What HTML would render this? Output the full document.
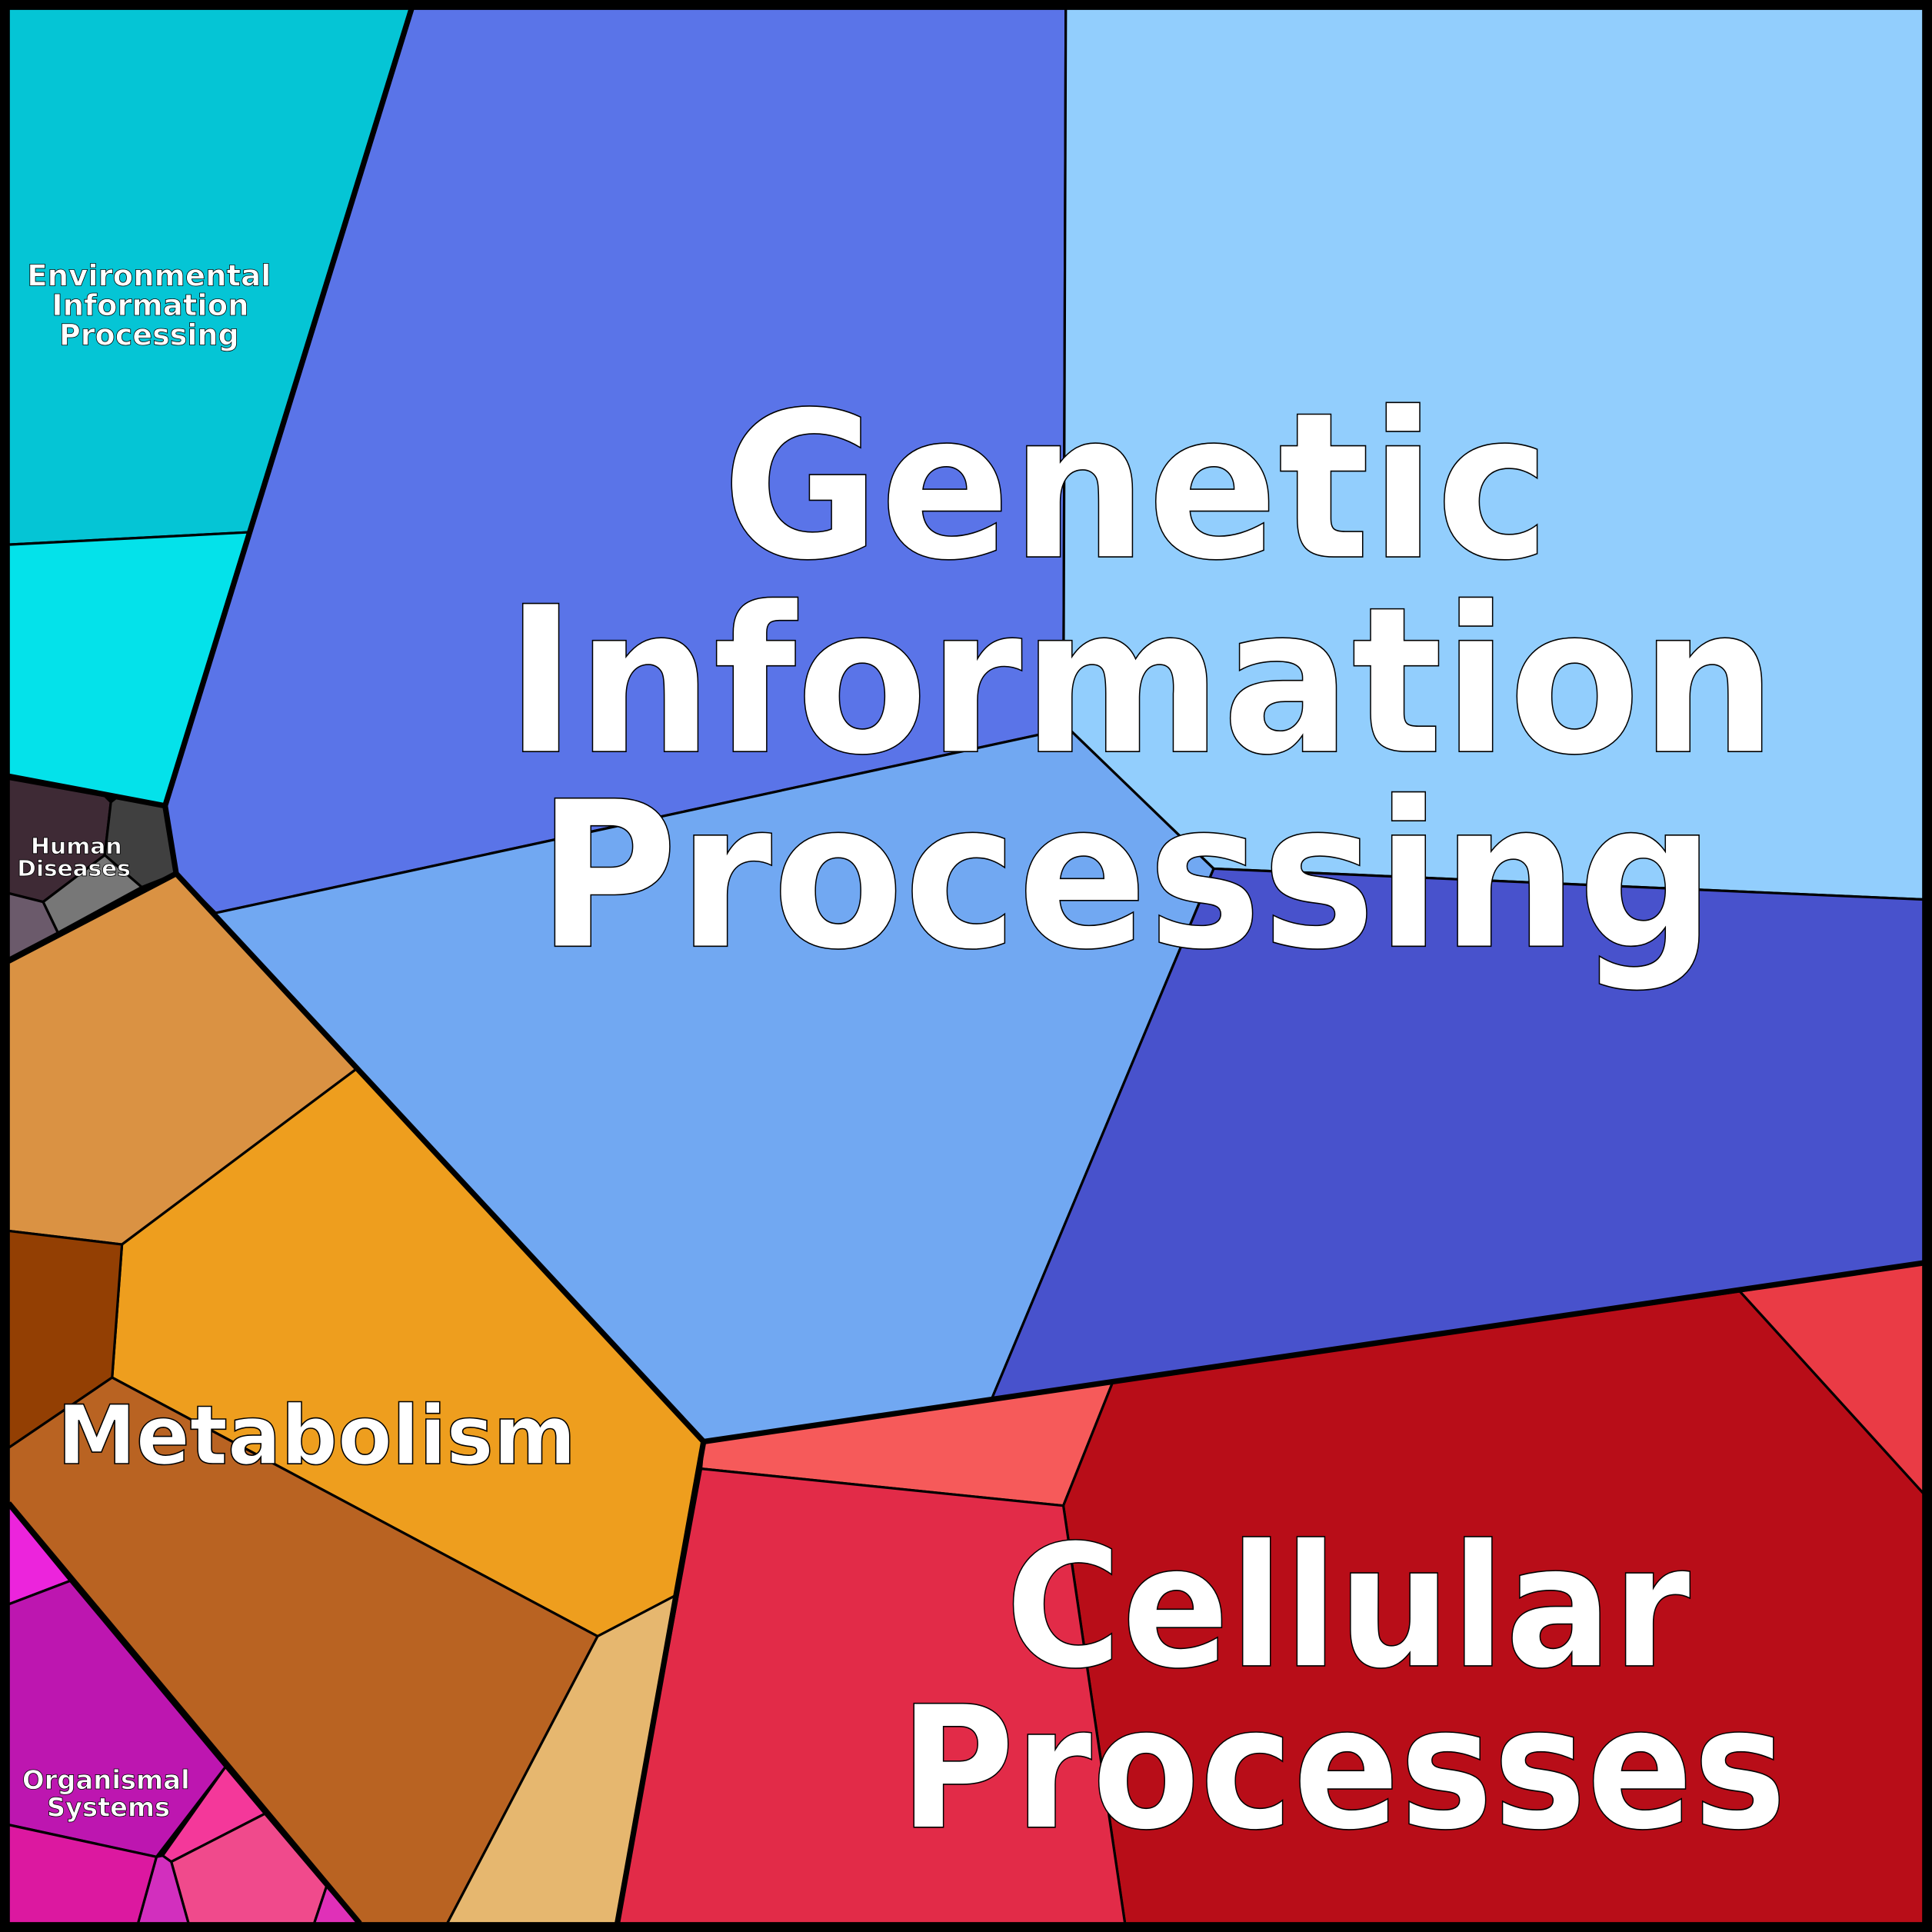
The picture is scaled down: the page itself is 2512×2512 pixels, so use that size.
<!DOCTYPE html>
<html><head><meta charset="utf-8"><style>html,body{margin:0;padding:0;background:#000}svg{display:block}</style></head>
<body>
<svg width="2512" height="2512" viewBox="0 0 1568 1568" xmlns="http://www.w3.org/2000/svg">
<rect x="0" y="0" width="1568" height="1568" fill="#000"/>
<g stroke="#000" stroke-width="2" stroke-linejoin="round">
<polygon fill="#05c5d5" points="7,7 334,7 202,432 7,442"/>
<polygon fill="#04e2ea" points="7,442 202,432 134,654 7,630"/>
<polygon fill="#5a74e8" points="334,7 865,7 863,592 175,741 143,709 134,654"/>
<polygon fill="#92cefd" points="865,7 1561,7 1561,730 985,705 868,592 863,592"/>
<polygon fill="#71a8f2" points="175,741 863,592 868,592 985,705 805,1135 571,1170 143,709"/>
<polygon fill="#4852cc" points="985,705 1561,730 1561,1025 805,1135"/>
<polygon fill="#f65a5a" points="571,1170 903,1122 863,1222 569,1192"/>
<polygon fill="#b80d18" points="903,1122 1412,1048 1561,1212 1561,1561 913,1561 863,1222"/>
<polygon fill="#ea3b45" points="1412,1048 1561,1025 1561,1212"/>
<polygon fill="#e22b48" points="569,1192 863,1222 913,1561 501,1561"/>
<polygon fill="#da9243" points="7,780 143,709 290,867 99,1010 7,999"/>
<polygon fill="#ee9e1e" points="290,867 571,1170 548,1295 485,1328 91,1118 99,1010"/>
<polygon fill="#933f03" points="7,999 99,1010 91,1118 7,1175"/>
<polygon fill="#b96322" points="7,1175 91,1118 485,1328 363,1561 292,1561 7,1220"/>
<polygon fill="#e6b76f" points="485,1328 548,1295 501,1561 363,1561"/>
<polygon fill="#3e2a35" points="7,632 85,646 90,651 85,694 35,732 7,725"/>
<polygon fill="#404040" points="90,651 95,647 134,654 143,709 115,720 85,694"/>
<polygon fill="#777777" points="85,694 115,720 47,757 35,732"/>
<polygon fill="#6b5a6b" points="7,725 35,732 47,757 7,778"/>
<polygon fill="#ec24dc" points="7,1222 57,1283 7,1302"/>
<polygon fill="#bd16b0" points="7,1302 57,1283 183,1434 127,1507 7,1481"/>
<polygon fill="#f4389a" points="183,1434 215,1472 139,1511 132,1506"/>
<polygon fill="#f04a8c" points="215,1472 265,1531 255,1561 153,1561 139,1511"/>
<polygon fill="#e030b8" points="265,1531 292,1561 255,1561"/>
<polygon fill="#d22fbe" points="127,1507 132,1506 139,1511 153,1561 112,1561"/>
<polygon fill="#dc18a0" points="7,1481 127,1507 112,1561 7,1561"/>
</g>
<g stroke="#000" stroke-width="4.5" fill="none" stroke-linejoin="round">
<polyline points="7,630 134,654 143,709 7,780"/>
<polyline points="334,7 134,654"/>
<polyline points="143,709 571,1170 1561,1025"/>
<polyline points="571,1170 501,1561"/>
<polyline points="7,1220 292,1561"/>
</g>
<rect x="3.5" y="3.5" width="1561" height="1561" fill="none" stroke="#000" stroke-width="7"/>
<g font-family="'DejaVu Sans','Liberation Sans',sans-serif" font-weight="bold" fill="#fff" stroke="#000" text-anchor="middle">
<g stroke-width="1">
<text x="922" y="452" font-size="165" textLength="672" lengthAdjust="spacingAndGlyphs">Genetic</text>
<text x="926" y="610" font-size="165" textLength="1032" lengthAdjust="spacingAndGlyphs">Information</text>
<text x="914" y="768" font-size="165" textLength="956" lengthAdjust="spacingAndGlyphs">Processing</text>
<text x="1094" y="1352" font-size="138" textLength="556" lengthAdjust="spacingAndGlyphs">Cellular</text>
<text x="1090" y="1483" font-size="138" textLength="720" lengthAdjust="spacingAndGlyphs">Processes</text>
<text x="257" y="1188" font-size="66" textLength="421" lengthAdjust="spacingAndGlyphs">Metabolism</text>
</g>
<g stroke-width="0.5">
<text x="121" y="232" font-size="24" textLength="198" lengthAdjust="spacingAndGlyphs">Environmental</text>
<text x="122" y="256" font-size="24" textLength="160" lengthAdjust="spacingAndGlyphs">Information</text>
<text x="121" y="280" font-size="24" textLength="146" lengthAdjust="spacingAndGlyphs">Processing</text>
<text x="62" y="693" font-size="18" textLength="74" lengthAdjust="spacingAndGlyphs">Human</text>
<text x="60" y="711" font-size="18" textLength="92" lengthAdjust="spacingAndGlyphs">Diseases</text>
<text x="86" y="1452" font-size="21" textLength="136" lengthAdjust="spacingAndGlyphs">Organismal</text>
<text x="88" y="1474" font-size="21" textLength="100" lengthAdjust="spacingAndGlyphs">Systems</text>
</g>
</g>
</svg>
</body></html>
